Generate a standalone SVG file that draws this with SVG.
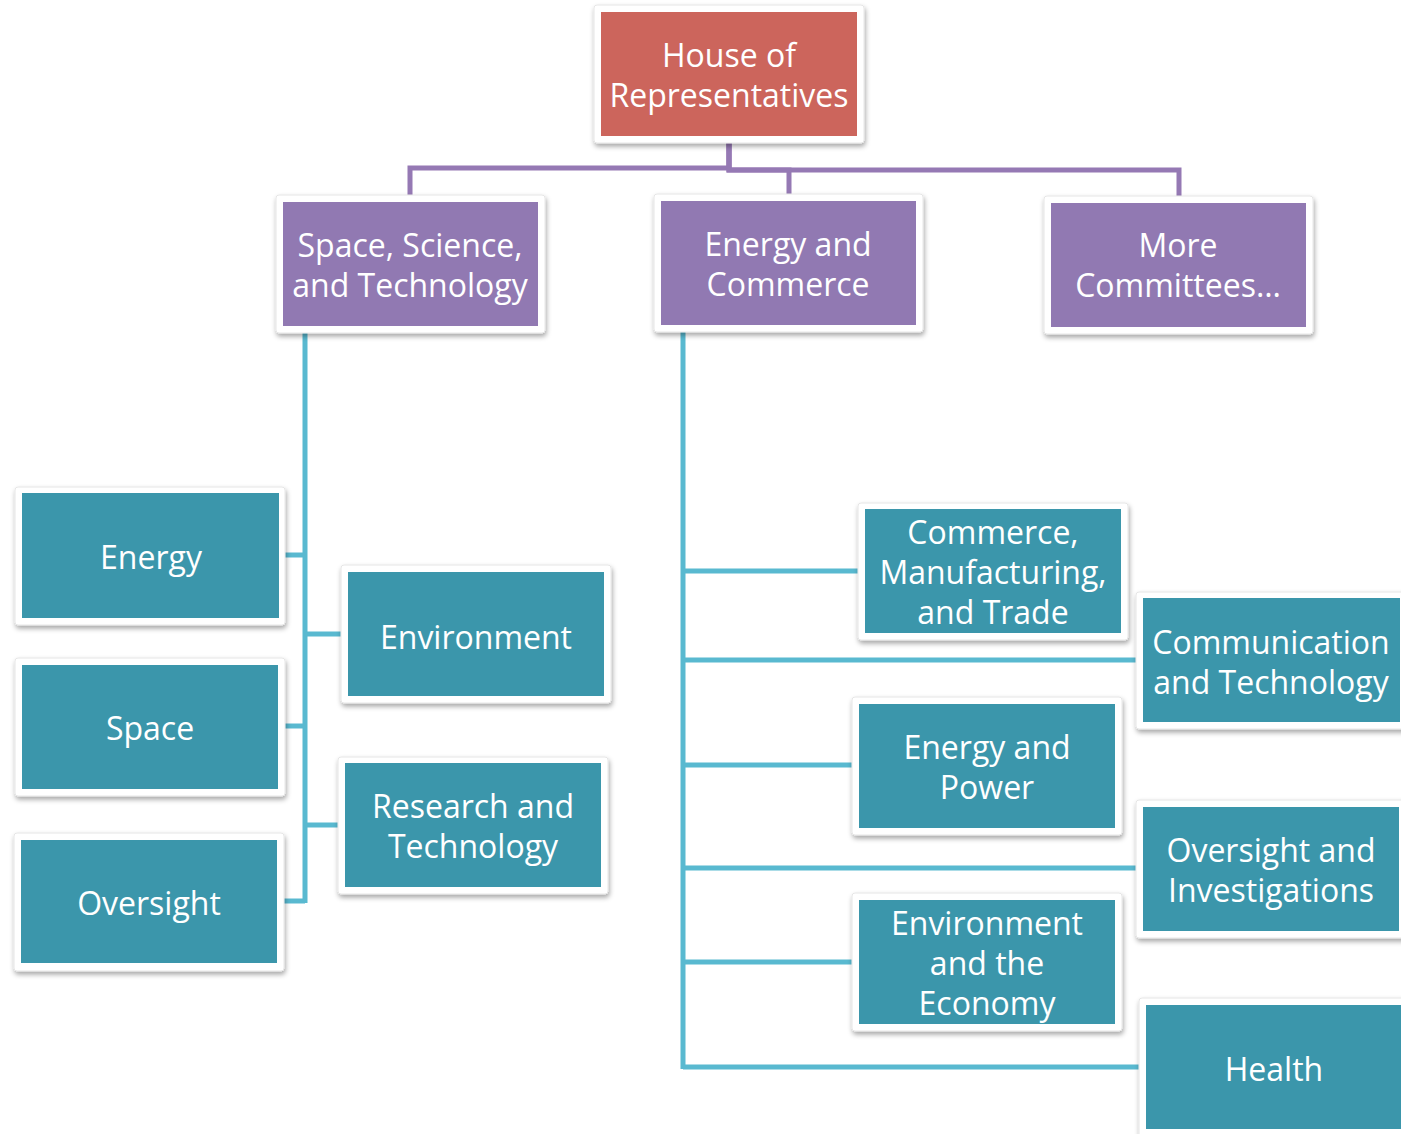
<svg xmlns="http://www.w3.org/2000/svg" width="1401" height="1134" viewBox="0 0 1401 1134">
<style>
.frame{fill:#ffffff;stroke:#e6e6e6;stroke-width:1;filter:url(#sh)}
.red{fill:#CC655C}
.pur{fill:#9179B2}
.teal{fill:#3B96AB}
text{font-family:"Open Sans","Noto Sans","DejaVu Sans",sans-serif;font-size:32px;fill:#ffffff;text-anchor:middle}
.cp{fill:none;stroke:#9579B4;stroke-width:5}
.ct{fill:none;stroke:#59B9D0;stroke-width:5}
</style>
<defs>
<filter id="sh" x="-10%" y="-10%" width="125%" height="130%">
<feDropShadow dx="1" dy="3" stdDeviation="2.5" flood-color="#000000" flood-opacity="0.35"/>
</filter>
</defs>
<rect width="1401" height="1134" fill="#ffffff"/>
<g id="connectors">
<path class="cp" d="M729 143 V168 H410 V196"/>
<path class="cp" d="M729 143 V170 H789 V196"/>
<path class="cp" d="M729 143 V170 H1179 V196"/>
<path class="ct" d="M305 332 V903"/>
<path class="ct" d="M285 555 H305"/>
<path class="ct" d="M305 634 H341"/>
<path class="ct" d="M285 726 H305"/>
<path class="ct" d="M305 825 H338"/>
<path class="ct" d="M284 901 H305"/>
<path class="ct" d="M683 332 V1069"/>
<path class="ct" d="M683 571 H858"/>
<path class="ct" d="M683 660 H1136"/>
<path class="ct" d="M683 765 H852"/>
<path class="ct" d="M683 868 H1136"/>
<path class="ct" d="M683 962 H852"/>
<path class="ct" d="M683 1067 H1139"/>
</g>
<g id="house">
<rect class="frame" x="594" y="5" width="270" height="138" rx="3"/>
<rect class="red" x="601" y="12" width="256" height="124"/>
<text x="729" y="67">House of</text>
<text x="729" y="107">Representatives</text>
</g>
<g id="sst">
<rect class="frame" x="276" y="195" width="269" height="138" rx="3"/>
<rect class="pur" x="283" y="202" width="255" height="124"/>
<text x="410" y="257">Space, Science,</text>
<text x="410" y="297">and Technology</text>
</g>
<g id="enc">
<rect class="frame" x="654" y="194" width="269" height="138" rx="3"/>
<rect class="pur" x="661" y="201" width="255" height="124"/>
<text x="788" y="256">Energy and</text>
<text x="788" y="296">Commerce</text>
</g>
<g id="more">
<rect class="frame" x="1044" y="196" width="269" height="138" rx="3"/>
<rect class="pur" x="1051" y="203" width="255" height="124"/>
<text x="1178" y="257">More</text>
<text x="1178" y="297">Committees…</text>
</g>
<g id="energy">
<rect class="frame" x="15" y="487" width="270" height="138" rx="3"/>
<rect class="teal" x="22" y="493" width="257" height="125"/>
<text x="151" y="569">Energy</text>
</g>
<g id="space">
<rect class="frame" x="15" y="658" width="270" height="138" rx="3"/>
<rect class="teal" x="22" y="665" width="256" height="124"/>
<text x="150" y="740">Space</text>
</g>
<g id="oversight">
<rect class="frame" x="14" y="833" width="270" height="138" rx="3"/>
<rect class="teal" x="21" y="840" width="256" height="123"/>
<text x="149" y="915">Oversight</text>
</g>
<g id="environment">
<rect class="frame" x="341" y="565" width="270" height="138" rx="3"/>
<rect class="teal" x="348" y="572" width="256" height="124"/>
<text x="476" y="649">Environment</text>
</g>
<g id="research">
<rect class="frame" x="338" y="757" width="270" height="137" rx="3"/>
<rect class="teal" x="345" y="763" width="256" height="124"/>
<text x="473" y="818">Research and</text>
<text x="473" y="858">Technology</text>
</g>
<g id="commerce">
<rect class="frame" x="858" y="503" width="270" height="137" rx="3"/>
<rect class="teal" x="865" y="509" width="256" height="124"/>
<text x="993" y="544">Commerce,</text>
<text x="993" y="584">Manufacturing,</text>
<text x="993" y="624">and Trade</text>
</g>
<g id="communication">
<rect class="frame" x="1136" y="592" width="272" height="137" rx="3"/>
<rect class="teal" x="1143" y="598" width="257" height="124"/>
<text x="1271" y="654">Communication</text>
<text x="1271" y="694">and Technology</text>
</g>
<g id="energypower">
<rect class="frame" x="852" y="697" width="270" height="138" rx="3"/>
<rect class="teal" x="859" y="704" width="256" height="124"/>
<text x="987" y="759">Energy and</text>
<text x="987" y="799">Power</text>
</g>
<g id="oversightinv">
<rect class="frame" x="1136" y="800" width="272" height="138" rx="3"/>
<rect class="teal" x="1143" y="807" width="256" height="124"/>
<text x="1271" y="862">Oversight and</text>
<text x="1271" y="902">Investigations</text>
</g>
<g id="envecon">
<rect class="frame" x="852" y="893" width="270" height="138" rx="3"/>
<rect class="teal" x="859" y="900" width="256" height="124"/>
<text x="987" y="935">Environment</text>
<text x="987" y="975">and the</text>
<text x="987" y="1015">Economy</text>
</g>
<g id="health">
<rect class="frame" x="1139" y="998" width="270" height="140" rx="3"/>
<rect class="teal" x="1146" y="1005" width="256" height="124"/>
<text x="1274" y="1081">Health</text>
</g>
</svg>
